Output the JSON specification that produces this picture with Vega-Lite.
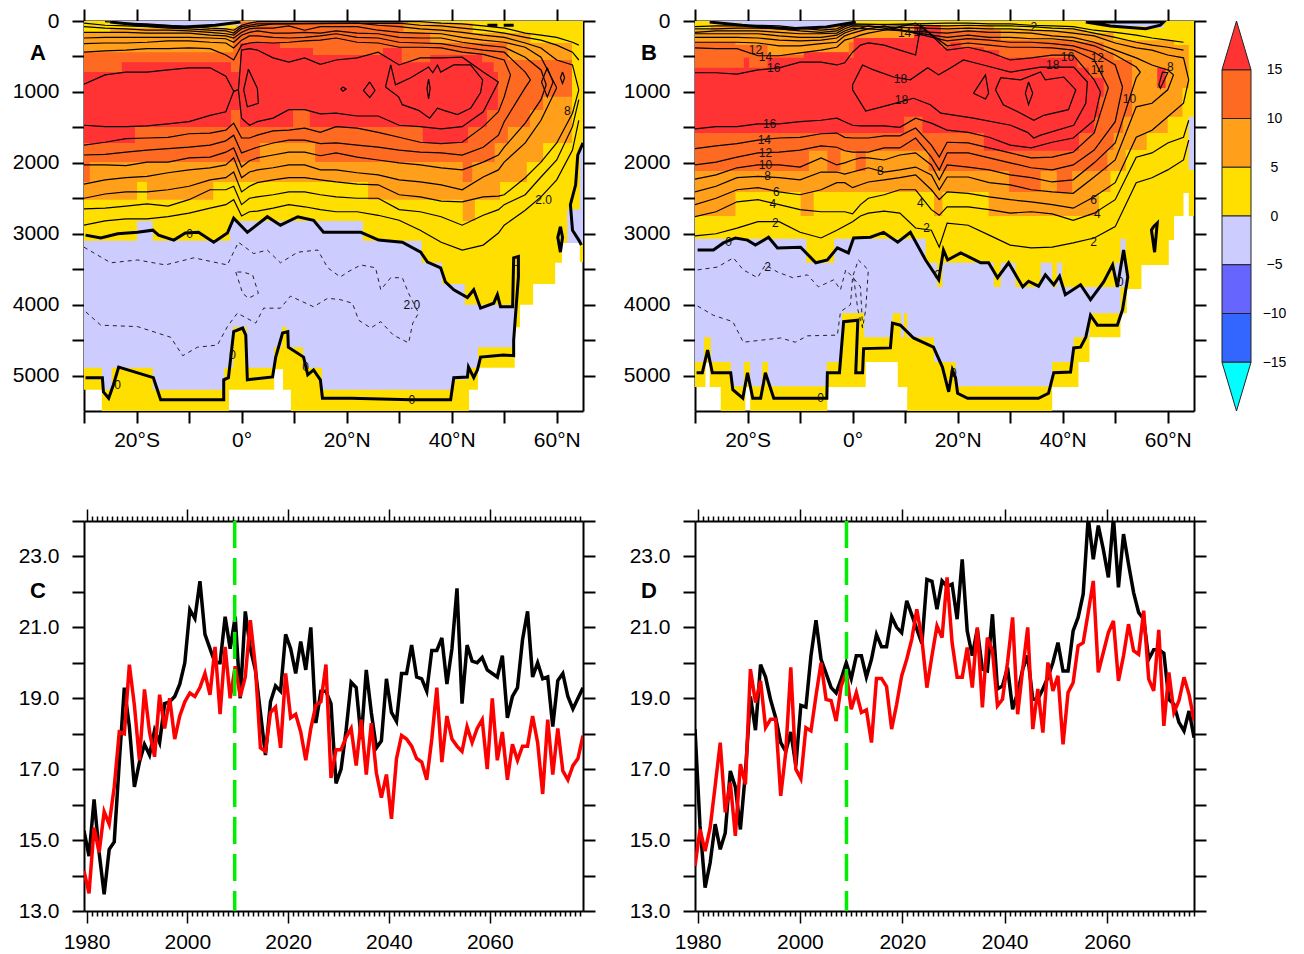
{"$schema":"https://vega.github.io/schema/vega-lite/v6.json","background":"white","padding":{"left":12,"top":8,"right":0,"bottom":0},"bounds":"flush","spacing":500,"resolve":{"scale":{"color":"independent"}},
"config":{"view":{"stroke":null},"font":"Liberation Sans","title":{"anchor":"start","frame":"group","fontSize":22,"fontWeight":"bold","offset":0,"color":"black","font":"Liberation Sans"},"axis":{"grid":false,"domainColor":"black","tickColor":"black","domainWidth":2,"tickWidth":2,"labelColor":"black","labelFont":"Liberation Sans","labelFontSize":21,"zindex":1,"labelOverlap":false,"labelFlush":false,"tickSize":12,"labelPadding":13}},
"datasets":{
"fA":[{"k":"water","a":-30,"t":0,"b":5200},{"k":"water","a":-26.6,"t":0,"b":5500},{"k":"water","a":-2.4,"t":0,"b":5200},{"k":"water","a":6.2,"t":0,"b":4910},{"k":"water","a":7.9,"t":0,"b":5200},{"k":"water","a":9.4,"t":0,"b":5500},{"k":"water","a":43.3,"t":0,"b":5200},{"k":"water","a":45,"t":0,"b":4890},{"k":"water","a":52,"t":0,"b":4320},{"k":"water","a":53,"t":0,"b":4000},{"k":"water","a":55.5,"t":0,"b":3710},{"k":"water","a":59.7,"t":0,"b":3410},{"k":"water","a":61,"t":0,"b":3130},{"k":"water","a":64.4,"t":0,"b":3400},{"k":"water","a":65,"t":0,"b":3400},
{"k":"lav","a":-30,"t":3100,"b":4890},{"k":"lav","a":-26.6,"t":3100,"b":5200},{"k":"lav","a":-24.7,"t":3100,"b":4890},{"k":"lav","a":-19.9,"t":2820,"b":4890},{"k":"lav","a":-16.9,"t":3100,"b":5200},{"k":"lav","a":-3.3,"t":3100,"b":4890},{"k":"lav","a":-2.2,"t":2820,"b":4890},{"k":"lav","a":-1.6,"t":2820,"b":4315},{"k":"lav","a":1,"t":2820,"b":4890},{"k":"lav","a":6.2,"t":2820,"b":4600},{"k":"lav","a":7.7,"t":2820,"b":4315},{"k":"lav","a":8.6,"t":2820,"b":4600},{"k":"lav","a":11.7,"t":2820,"b":4890},{"k":"lav","a":15.3,"t":2820,"b":5200},{"k":"lav","a":23.1,"t":3100,"b":5200},{"k":"lav","a":34.3,"t":3410,"b":5200},{"k":"lav","a":38.2,"t":3710,"b":5200},{"k":"lav","a":40.3,"t":3710,"b":5060},{"k":"lav","a":42.5,"t":4000,"b":5060},{"k":"lav","a":43.1,"t":4000,"b":4890},{"k":"lav","a":45,"t":4000,"b":4600},{"k":"lav","a":52,"t":4000,"b":4600},
{"k":"lav2","a":62,"t":2660,"b":3130},{"k":"lav2","a":64.4,"t":1720,"b":3130},{"k":"lav2","a":65,"t":1720,"b":3130},
{"k":"or","a":-30,"t":170,"b":2520},{"k":"or","a":-25,"t":100,"b":2520},{"k":"or","a":-19.9,"t":100,"b":2270},{"k":"or","a":-18,"t":100,"b":2520},{"k":"or","a":-5.4,"t":100,"b":2270},{"k":"or","a":-1,"t":0,"b":2270},{"k":"or","a":24.1,"t":0,"b":2520},{"k":"or","a":31.7,"t":30,"b":2520},{"k":"or","a":42.1,"t":30,"b":2820},{"k":"or","a":44,"t":170,"b":2820},{"k":"or","a":44.4,"t":170,"b":2520},{"k":"or","a":49.2,"t":170,"b":2270},{"k":"or","a":54.3,"t":170,"b":1990},{"k":"or","a":55,"t":310,"b":1990},{"k":"or","a":57.4,"t":310,"b":1720},{"k":"or","a":62.9,"t":310,"b":310},
{"k":"dk","a":-30,"t":440,"b":2270},{"k":"dk","a":-28.9,"t":440,"b":1990},{"k":"dk","a":-1.6,"t":130,"b":1990},{"k":"dk","a":-0.3,"t":15,"b":1990},{"k":"dk","a":3.5,"t":15,"b":1720},{"k":"dk","a":14,"t":15,"b":1990},{"k":"dk","a":30.8,"t":170,"b":1990},{"k":"dk","a":35.9,"t":310,"b":1990},{"k":"dk","a":42.1,"t":310,"b":2270},{"k":"dk","a":43.9,"t":310,"b":1990},{"k":"dk","a":48.2,"t":310,"b":1720},{"k":"dk","a":50.5,"t":410,"b":1720},{"k":"dk","a":50.7,"t":550,"b":1495},{"k":"dk","a":54.9,"t":550,"b":1255},{"k":"dk","a":57.4,"t":550,"b":1070},{"k":"dk","a":62.9,"t":550,"b":550},
{"k":"red","a":-30,"t":720,"b":1720},{"k":"red","a":-22.8,"t":580,"b":1720},{"k":"red","a":-20.3,"t":580,"b":1495},{"k":"red","a":-2,"t":720,"b":1255},{"k":"red","a":-0.3,"t":310,"b":1495},{"k":"red","a":7.3,"t":380,"b":1495},{"k":"red","a":9.8,"t":380,"b":1255},{"k":"red","a":13,"t":380,"b":1495},{"k":"red","a":13.6,"t":480,"b":1495},{"k":"red","a":26.9,"t":380,"b":1495},{"k":"red","a":30.5,"t":580,"b":1495},{"k":"red","a":34.5,"t":580,"b":1720},{"k":"red","a":35.9,"t":480,"b":1720},{"k":"red","a":43.1,"t":480,"b":1495},{"k":"red","a":45.8,"t":580,"b":1495},{"k":"red","a":46.7,"t":580,"b":1255},{"k":"red","a":48,"t":720,"b":1255},{"k":"red","a":48.8,"t":720,"b":720},
{"k":"lens","a":-25,"t":0,"b":30},{"k":"lens","a":-20,"t":0,"b":60},{"k":"lens","a":-15,"t":0,"b":85},{"k":"lens","a":-8,"t":0,"b":85},{"k":"lens","a":-3,"t":0,"b":60},{"k":"lens","a":-0.2,"t":0,"b":0}],
"cA":[{"a":-30,"L16":1470,"L14":1750,"L12":1890,"L10":2030,"L8":2300,"L6":2500,"L4":2650,"L2":2880,"u16":890,"u14":440,"u12":320,"u10":240,"u8":160,"u6":80,"u4":30},
{"a":-26,"L16":1490,"L14":1710,"L12":1880,"L10":2030,"L8":2240,"L6":2440,"L4":2640,"L2":2820,"u16":760,"u14":420,"u12":310,"u10":230,"u8":160,"u6":100,"u4":60,"u2":10},
{"a":-22,"L16":1490,"L14":1660,"L12":1850,"L10":2040,"L8":2210,"L6":2410,"L4":2610,"L2":2790,"u16":720,"u14":410,"u12":310,"u10":230,"u8":160,"u6":110,"u4":70,"u2":30},
{"a":-18,"L16":1480,"L14":1650,"L12":1820,"L10":1990,"L8":2190,"L6":2410,"L4":2580,"L2":2790,"u16":720,"u14":390,"u12":300,"u10":230,"u8":170,"u6":130,"u4":80,"u2":40},
{"a":-14,"L16":1450,"L14":1640,"L12":1800,"L10":1990,"L8":2140,"L6":2380,"L4":2610,"L2":2760,"u16":690,"u14":390,"u12":280,"u10":230,"u8":170,"u6":130,"u4":100,"u2":60},
{"a":-10,"L16":1420,"L14":1590,"L12":1780,"L10":1930,"L8":2100,"L6":2330,"L4":2520,"L2":2710,"u16":660,"u14":380,"u12":280,"u10":230,"u8":170,"u6":140,"u4":110,"u2":80},
{"a":-6,"L16":1330,"L14":1580,"L12":1750,"L10":1920,"L8":2070,"L6":2240,"L4":2380,"L2":2640,"u16":660,"u14":390,"u12":300,"u10":240,"u8":200,"u6":160,"u4":130,"u2":100},
{"a":-3,"L16":1280,"L14":1540,"L12":1690,"L10":1850,"L8":2030,"L6":2210,"L4":2380,"L2":2590,"u16":780,"u14":480,"u12":310,"u10":250,"u8":210,"u6":180,"u4":140,"u2":110},
{"a":-1.5,"L16":990,"L14":1440,"L12":1610,"L10":1790,"L8":1930,"L6":2130,"L4":2330,"L2":2520,"u16":990,"u14":550,"u12":380,"u10":300,"u8":240,"u6":200,"u4":170,"u2":130},
{"a":-0.6,"L16":970,"u16":970},
{"a":0,"L16":1370,"L14":1650,"L12":1860,"L10":2060,"L8":2210,"L6":2410,"L4":2590,"L2":2750,"u16":410,"u14":340,"u12":270,"u10":200,"u8":160,"u6":110,"u4":80,"u2":60},
{"a":1.5,"L16":1470,"L14":1650,"L12":1820,"L10":1970,"L8":2130,"L6":2330,"L4":2500,"L2":2690,"u16":390,"u14":310,"u12":210,"u10":160,"u8":110,"u6":80,"u4":60,"u2":30},
{"a":3,"L16":1420,"L14":1610,"L12":1780,"L10":1930,"L8":2100,"L6":2280,"L4":2480,"L2":2680,"u16":410,"u14":300,"u12":210,"u10":140,"u8":100,"u6":70,"u4":40,"u2":10},
{"a":6,"L16":1370,"L14":1550,"L12":1720,"L10":1890,"L8":2070,"L6":2240,"L4":2450,"L2":2640,"u16":520,"u14":310,"u12":230,"u10":170,"u8":100,"u6":40},
{"a":9,"L16":1250,"L14":1540,"L12":1680,"L10":1850,"L8":2030,"L6":2210,"L4":2410,"L2":2590,"u16":580,"u14":300,"u12":240,"u10":170,"u8":70},
{"a":12,"L16":1250,"L14":1510,"L12":1680,"L10":1850,"L8":2030,"L6":2210,"L4":2410,"L2":2620,"u16":520,"u14":280,"u12":230,"u10":160,"u8":130},
{"a":15,"L16":1310,"L14":1570,"L12":1730,"L10":1900,"L8":2100,"L6":2240,"L4":2450,"L2":2660,"u16":610,"u14":270,"u12":210,"u10":170,"u8":80},
{"a":18,"L16":1300,"L14":1490,"L12":1720,"L10":1860,"L8":2100,"L6":2270,"L4":2480,"L2":2690,"u16":550,"u14":240,"u12":180,"u10":140,"u8":80},
{"a":22,"L16":1340,"L14":1510,"L12":1750,"L10":1920,"L8":2140,"L6":2300,"L4":2500,"L2":2690,"u16":520,"u14":300,"u12":230,"u10":170,"u8":80,"u6":30},
{"a":26,"L16":1340,"L14":1570,"L12":1780,"L10":1960,"L8":2170,"L6":2310,"L4":2500,"L2":2740,"u16":440,"u14":310,"u12":240,"u10":180,"u8":130,"u6":60},
{"a":30,"L16":1470,"L14":1640,"L12":1820,"L10":2000,"L8":2240,"L6":2450,"L4":2660,"L2":2810,"u16":620,"u14":370,"u12":300,"u10":230,"u8":160,"u6":80,"u4":30},
{"a":34,"L16":1490,"L14":1710,"L12":1850,"L10":2030,"L8":2270,"L6":2480,"L4":2690,"L2":2950,"u16":520,"u14":370,"u12":310,"u10":240,"u8":170,"u6":110,"u4":60,"u2":10},
{"a":38,"L16":1520,"L14":1730,"L12":1860,"L10":2070,"L8":2310,"L6":2540,"L4":2760,"L2":3120,"u16":520,"u14":380,"u12":320,"u10":240,"u8":180,"u6":130,"u4":70,"u2":30},
{"a":42,"L16":1490,"L14":1710,"L12":1890,"L10":2100,"L8":2380,"L6":2550,"L4":2880,"L2":3230,"u16":510,"u14":440,"u12":370,"u10":300,"u8":230,"u6":160,"u4":100,"u2":40},
{"a":46,"L16":1280,"L14":1490,"L12":1780,"L10":1990,"L8":2200,"L6":2480,"L4":2740,"L2":3160,"u16":720,"u14":470,"u12":410,"u10":340,"u8":270,"u6":200,"u4":130,"u2":70},
{"a":48.9,"L16":860,"L14":1280,"L12":1610,"L10":1890,"L8":2100,"L6":2470,"L4":2660,"L2":2990,"u16":860},
{"a":50,"L14":1070,"L12":1420,"L10":1780,"L8":1990,"L6":2450,"L4":2590,"L2":2880,"u14":550,"u12":440,"u10":370,"u8":300,"u6":230,"u4":170,"u2":100},
{"a":51.2,"L14":760,"u14":760},
{"a":54,"L12":940,"L10":1440,"L8":1720,"L6":2210,"L4":2450,"L2":2670,"u12":720,"u10":510,"u8":370,"u6":310,"u4":230,"u2":170},
{"a":55,"L12":830,"u12":830},
{"a":57,"L10":1110,"L8":1400,"L6":1990,"L4":2200,"L2":2480,"u10":690,"u8":510,"u6":380,"u4":270,"u2":200},
{"a":58,"L10":900,"u10":900},
{"a":60,"L8":940,"L6":1720,"L4":1960,"L2":2240,"u8":940,"u6":550,"u4":340,"u2":230},
{"a":63,"L6":1300,"L4":1490,"L2":1820,"u6":620,"u4":440,"u2":300},
{"a":64.2,"L6":970,"L4":1110,"L2":1400,"u6":970,"u4":550,"u2":340}],
"zA":[{"c":"z","a":-29.7,"d":3020},{"c":"z","a":-26.8,"d":3060},{"c":"z","a":-23.6,"d":3000},{"c":"z","a":-19.8,"d":2980},{"c":"z","a":-16.9,"d":2950},{"c":"z","a":-15.8,"d":3020},{"c":"z","a":-12.9,"d":3090},{"c":"z","a":-10.7,"d":2990},{"c":"z","a":-8.2,"d":2980},{"c":"z","a":-5.3,"d":3120},{"c":"z","a":-2.7,"d":2990},{"c":"z","a":-1.5,"d":2780},{"c":"z","a":1.1,"d":2980},{"c":"z","a":4.9,"d":2760},{"c":"z","a":7.4,"d":2880},{"c":"z","a":10.7,"d":2760},{"c":"z","a":13.7,"d":2810},{"c":"z","a":15.6,"d":2980},{"c":"z","a":18.3,"d":2980},{"c":"z","a":22.7,"d":2980},{"c":"z","a":26.1,"d":3090},{"c":"z","a":30.6,"d":3120},{"c":"z","a":34.1,"d":3260},{"c":"z","a":35.4,"d":3400},{"c":"z","a":37.9,"d":3480},{"c":"z","a":38.8,"d":3680},{"c":"z","a":40.4,"d":3790},{"c":"z","a":43,"d":3900},{"c":"z","a":44.2,"d":3790},{"c":"z","a":45.5,"d":4050},{"c":"z","a":48,"d":3980},{"c":"z","a":48.7,"d":3860},{"c":"z","a":49.3,"d":4030},{"c":"z","a":51.6,"d":4030},{"c":"z","a":51.8,"d":3340},{"c":"z","a":52.7,"d":3320},{"c":"z","a":52.7,"d":3610},{"c":"z","a":51.8,"d":4500},{"c":"z","a":51.8,"d":4720},{"c":"z","a":49.9,"d":4710},{"c":"z","a":45.5,"d":4740},{"c":"z","a":44.9,"d":4920},{"c":"z","a":44.2,"d":5030},{"c":"z","a":43.2,"d":4880},{"c":"z","a":43,"d":5020},{"c":"z","a":40.4,"d":5030},{"c":"z","a":39.8,"d":5340},{"c":"z","a":32.2,"d":5340},{"c":"z","a":20.8,"d":5320},{"c":"z","a":15.4,"d":5320},{"c":"z","a":15,"d":5060},{"c":"z","a":13.7,"d":4920},{"c":"z","a":12.6,"d":4990},{"c":"z","a":11.8,"d":4740},{"c":"z","a":8.9,"d":4600},{"c":"z","a":8.8,"d":4380},{"c":"z","a":7.8,"d":4400},{"c":"z","a":6.5,"d":4740},{"c":"z","a":5.9,"d":5020},{"c":"z","a":1.1,"d":5060},{"c":"z","a":0.8,"d":4430},{"c":"z","a":0.2,"d":4330},{"c":"z","a":-1.5,"d":4380},{"c":"z","a":-2.5,"d":5030},{"c":"z","a":-3.4,"d":5060},{"c":"z","a":-3.4,"d":5340},{"c":"z","a":-15.4,"d":5340},{"c":"z","a":-16.8,"d":5030},{"c":"z","a":-23.4,"d":4880},{"c":"z","a":-24.4,"d":5130},{"c":"z","a":-25.3,"d":5320},{"c":"z","a":-26.3,"d":5230},{"c":"z","a":-26.5,"d":5030},{"c":"z","a":-29.7,"d":5030},
{"c":"z2","a":65,"d":1720},{"c":"z2","a":64,"d":1890},{"c":"z2","a":63.6,"d":2310},{"c":"z2","a":62.6,"d":2590},{"c":"z2","a":63,"d":2950},{"c":"z2","a":64.2,"d":3090},{"c":"z2","a":64.7,"d":3160},
{"c":"z3","a":60.7,"d":2900},{"c":"z3","a":60.2,"d":3050},{"c":"z3","a":60.7,"d":3260},{"c":"z3","a":61.1,"d":3050},{"c":"z3","a":60.7,"d":2900},
{"c":"z4","a":46.8,"d":60},{"c":"z4","a":48.7,"d":60},{"c":"z5","a":49.9,"d":60},{"c":"z5","a":51.8,"d":60},
{"c":"z6","a":-25,"d":15},{"c":"z6","a":-19,"d":60},{"c":"z6","a":-11,"d":85},{"c":"z6","a":-5,"d":60},{"c":"z6","a":-0.2,"d":15}],
"dA":[{"c":"d1","a":-30,"d":3190},{"c":"d1","a":-24.9,"d":3410},{"c":"d1","a":-19.8,"d":3370},{"c":"d1","a":-14.5,"d":3440},{"c":"d1","a":-9.1,"d":3340},{"c":"d1","a":-2.7,"d":3440},{"c":"d1","a":-0.6,"d":3120},{"c":"d1","a":2.3,"d":3280},{"c":"d1","a":4.9,"d":3230},{"c":"d1","a":7.4,"d":3410},{"c":"d1","a":10.7,"d":3260},{"c":"d1","a":14.5,"d":3230},{"c":"d1","a":16.4,"d":3480},{"c":"d1","a":18.8,"d":3610},{"c":"d1","a":20.2,"d":3540},{"c":"d1","a":22.7,"d":3440},{"c":"d1","a":25.5,"d":3480},{"c":"d1","a":26.5,"d":3790},{"c":"d1","a":28.4,"d":3620},{"c":"d1","a":30.6,"d":3620},{"c":"d1","a":31.8,"d":3840},{"c":"d1","a":33.7,"d":4120},{"c":"d1","a":32.6,"d":4260},{"c":"d1","a":31.8,"d":4540},{"c":"d1","a":28.9,"d":4430},{"c":"d1","a":26.5,"d":4240},{"c":"d1","a":24.6,"d":4330},{"c":"d1","a":22.3,"d":4220},{"c":"d1","a":21.1,"d":3980},{"c":"d1","a":18.8,"d":3930},{"c":"d1","a":16.4,"d":3910},{"c":"d1","a":13.7,"d":4030},{"c":"d1","a":9.3,"d":3880},{"c":"d1","a":7.4,"d":4050},{"c":"d1","a":4.2,"d":4050},{"c":"d1","a":2.7,"d":4260},{"c":"d1","a":-0.8,"d":4120},{"c":"d1","a":-2.7,"d":4310},{"c":"d1","a":-4.6,"d":4570},{"c":"d1","a":-8.4,"d":4600},{"c":"d1","a":-11.2,"d":4720},{"c":"d1","a":-13.5,"d":4460},{"c":"d1","a":-19.8,"d":4310},{"c":"d1","a":-26.8,"d":4290},{"c":"d1","a":-29.7,"d":4100},
{"c":"d2","a":-1.1,"d":3540},{"c":"d2","a":0.2,"d":3840},{"c":"d2","a":1.3,"d":3910},{"c":"d2","a":3.2,"d":3840},{"c":"d2","a":2.1,"d":3580},{"c":"d2","a":0.2,"d":3540},{"c":"d2","a":-1.1,"d":3540}],
"lA":[{"c":"a","a":27.4,"d":930},{"c":"a","a":28.4,"d":620},{"c":"a","a":29.3,"d":900},{"c":"a","a":32.2,"d":800},{"c":"a","a":35.6,"d":650},{"c":"a","a":36.4,"d":730},{"c":"a","a":37.3,"d":620},{"c":"a","a":37.9,"d":720},{"c":"a","a":40.4,"d":620},{"c":"a","a":43.6,"d":620},{"c":"a","a":45.9,"d":830},{"c":"a","a":45.5,"d":1010},{"c":"a","a":43.6,"d":1230},{"c":"a","a":41.1,"d":1320},{"c":"a","a":38.5,"d":1260},{"c":"a","a":37.3,"d":1230},{"c":"a","a":35.8,"d":1370},{"c":"a","a":33.7,"d":1260},{"c":"a","a":30.6,"d":1180},{"c":"a","a":29.9,"d":1070},{"c":"a","a":27.4,"d":930},
{"c":"b","a":1.3,"d":680},{"c":"b","a":0.4,"d":970},{"c":"b","a":1.1,"d":1210},{"c":"b","a":3.2,"d":1160},{"c":"b","a":3,"d":950},{"c":"b","a":1.3,"d":680},
{"c":"e","a":24.4,"d":860},{"c":"e","a":25.4,"d":980},{"c":"e","a":24.4,"d":1080},{"c":"e","a":23.2,"d":980},{"c":"e","a":24.4,"d":860},
{"c":"f","a":19.3,"d":930},{"c":"f","a":19.9,"d":960},{"c":"f","a":19.3,"d":990},{"c":"f","a":18.9,"d":960},{"c":"f","a":19.3,"d":930},
{"c":"g","a":35.6,"d":820},{"c":"g","a":35.9,"d":950},{"c":"g","a":35.6,"d":1100},{"c":"g","a":35.3,"d":950},{"c":"g","a":35.6,"d":820},
{"c":"h","a":58.2,"d":660},{"c":"h","a":59.3,"d":860},{"c":"h","a":58.2,"d":1070},{"c":"h","a":57.1,"d":860},{"c":"h","a":58.2,"d":660},
{"c":"i","a":61.1,"d":720},{"c":"i","a":61.5,"d":800},{"c":"i","a":61.1,"d":880},{"c":"i","a":60.7,"d":800},{"c":"i","a":61.1,"d":720}],
"tA":[{"a":-9.9,"d":3000,"t":"0"},{"a":-1.7,"d":4710,"t":"0"},{"a":-23.6,"d":5130,"t":"0"},{"a":12.2,"d":4880,"t":"0"},{"a":32.4,"d":5340,"t":"0"},{"a":52.2,"d":3400,"t":"0"},{"a":32.4,"d":4000,"t":"2.0"},{"a":57.5,"d":2520,"t":"2.0"},{"a":62,"d":1270,"t":"8"}],
"fB":[{"k":"water","a":-30,"t":0,"b":5160},{"k":"water","a":-28,"t":0,"b":4820},{"k":"water","a":-27.2,"t":0,"b":5160},{"k":"water","a":-25.1,"t":0,"b":5500},{"k":"water","a":-20.4,"t":0,"b":5160},{"k":"water","a":-19.5,"t":0,"b":5500},{"k":"water","a":-4.8,"t":0,"b":5160},{"k":"water","a":2.5,"t":0,"b":4810},{"k":"water","a":8.6,"t":0,"b":5160},{"k":"water","a":10.4,"t":0,"b":5500},{"k":"water","a":38,"t":0,"b":5160},{"k":"water","a":43,"t":0,"b":4810},{"k":"water","a":45.1,"t":0,"b":4460},{"k":"water","a":51,"t":0,"b":4120},{"k":"water","a":52.2,"t":0,"b":3780},{"k":"water","a":55,"t":0,"b":3440},{"k":"water","a":60.2,"t":0,"b":3090},{"k":"water","a":61.2,"t":0,"b":2750},{"k":"water","a":63,"t":0,"b":2425},{"k":"water","a":64,"t":0,"b":2750},{"k":"water","a":65,"t":0,"b":2750},
{"k":"lav","a":-30,"t":3070,"b":4810},{"k":"lav","a":-28.3,"t":3070,"b":4460},{"k":"lav","a":-27,"t":3070,"b":4810},{"k":"lav","a":-23.2,"t":3070,"b":5150},{"k":"lav","a":-20.7,"t":3070,"b":4810},{"k":"lav","a":-19.5,"t":3070,"b":5150},{"k":"lav","a":-17.2,"t":3070,"b":4810},{"k":"lav","a":-16.1,"t":3070,"b":5150},{"k":"lav","a":-8.8,"t":3410,"b":5150},{"k":"lav","a":-4.9,"t":3410,"b":4810},{"k":"lav","a":-3.5,"t":3070,"b":4810},{"k":"lav","a":-2,"t":3070,"b":4120},{"k":"lav","a":2.2,"t":3070,"b":4460},{"k":"lav","a":7.6,"t":3070,"b":4120},{"k":"lav","a":9.2,"t":3070,"b":4460},{"k":"lav","a":9.8,"t":3070,"b":4120},{"k":"lav","a":10.4,"t":3070,"b":4460},{"k":"lav","a":13.9,"t":3410,"b":4460},{"k":"lav","a":15.5,"t":3410,"b":4810},{"k":"lav","a":16.1,"t":3750,"b":4810},{"k":"lav","a":17.1,"t":3410,"b":4810},{"k":"lav","a":19.6,"t":3410,"b":5150},{"k":"lav","a":26.9,"t":3750,"b":5150},{"k":"lav","a":28.2,"t":3410,"b":5150},{"k":"lav","a":31,"t":3750,"b":5150},{"k":"lav","a":35.8,"t":3410,"b":5150},{"k":"lav","a":38,"t":3750,"b":4810},{"k":"lav","a":38.9,"t":3410,"b":4810},{"k":"lav","a":39.9,"t":3750,"b":4810},{"k":"lav","a":42.1,"t":3750,"b":4460},{"k":"lav","a":45.1,"t":3750,"b":4120},{"k":"lav","a":50,"t":3410,"b":4120},{"k":"lav","a":51,"t":3070,"b":3750},{"k":"lav","a":52,"t":3070,"b":3070},
{"k":"lav2","a":64,"t":1350,"b":2100},{"k":"lav2","a":65,"t":1350,"b":2100},
{"k":"or","a":-30,"t":130,"b":2750},{"k":"or","a":-27,"t":60,"b":2750},{"k":"or","a":-22.3,"t":60,"b":2410},{"k":"or","a":-9.9,"t":60,"b":2750},{"k":"or","a":-7.4,"t":60,"b":2410},{"k":"or","a":15.5,"t":60,"b":2750},{"k":"or","a":17.1,"t":60,"b":2410},{"k":"or","a":25.9,"t":60,"b":2750},{"k":"or","a":26.9,"t":130,"b":2750},{"k":"or","a":44.5,"t":170,"b":2750},{"k":"or","a":46.9,"t":170,"b":2410},{"k":"or","a":49.1,"t":170,"b":2115},{"k":"or","a":49.7,"t":270,"b":2115},{"k":"or","a":52,"t":270,"b":1820},{"k":"or","a":56,"t":270,"b":1580},{"k":"or","a":60,"t":270,"b":1350},{"k":"or","a":61.2,"t":340,"b":1350},{"k":"or","a":62.8,"t":340,"b":945},{"k":"or","a":64,"t":340,"b":340},
{"k":"dk","a":-30,"t":300,"b":2115},{"k":"dk","a":-22.3,"t":340,"b":2115},{"k":"dk","a":-16.2,"t":480,"b":2115},{"k":"dk","a":-9.3,"t":440,"b":2115},{"k":"dk","a":-8.3,"t":440,"b":1830},{"k":"dk","a":-4.8,"t":440,"b":2115},{"k":"dk","a":-2.3,"t":440,"b":1830},{"k":"dk","a":-0.7,"t":300,"b":1830},{"k":"dk","a":0.6,"t":240,"b":2115},{"k":"dk","a":2.5,"t":240,"b":1830},{"k":"dk","a":11.7,"t":60,"b":1830},{"k":"dk","a":14.5,"t":60,"b":2115},{"k":"dk","a":16.8,"t":130,"b":2115},{"k":"dk","a":28.2,"t":270,"b":2115},{"k":"dk","a":29.8,"t":270,"b":2410},{"k":"dk","a":35.8,"t":270,"b":2115},{"k":"dk","a":38.9,"t":270,"b":2410},{"k":"dk","a":41.8,"t":300,"b":2115},{"k":"dk","a":47.8,"t":440,"b":2115},{"k":"dk","a":48.5,"t":440,"b":1820},{"k":"dk","a":49.7,"t":550,"b":1580},{"k":"dk","a":51.5,"t":550,"b":1350},{"k":"dk","a":53.2,"t":550,"b":550},
{"k":"red","a":-30,"t":660,"b":1580},{"k":"red","a":-20.7,"t":520,"b":1580},{"k":"red","a":-19.7,"t":660,"b":1580},{"k":"red","a":-16.2,"t":520,"b":1580},{"k":"red","a":-9.3,"t":440,"b":1580},{"k":"red","a":-0.7,"t":520,"b":1580},{"k":"red","a":0.2,"t":240,"b":1580},{"k":"red","a":9.8,"t":240,"b":1350},{"k":"red","a":11.7,"t":60,"b":1350},{"k":"red","a":13.3,"t":60,"b":1580},{"k":"red","a":16.8,"t":370,"b":1580},{"k":"red","a":18.6,"t":300,"b":1580},{"k":"red","a":20.6,"t":370,"b":1580},{"k":"red","a":25,"t":410,"b":1830},{"k":"red","a":27.9,"t":520,"b":1830},{"k":"red","a":42.8,"t":660,"b":1830},{"k":"red","a":43.1,"t":660,"b":1580},{"k":"red","a":45,"t":800,"b":1580},{"k":"red","a":46,"t":800,"b":1350},{"k":"red","a":47,"t":800,"b":1070},{"k":"red","a":47.8,"t":800,"b":800},
{"k":"red2","a":58,"t":660,"b":945},{"k":"red2","a":59.6,"t":660,"b":945},
{"k":"lens","a":-27.2,"t":0,"b":30},{"k":"lens","a":-21,"t":0,"b":70},{"k":"lens","a":-12,"t":0,"b":110},{"k":"lens","a":-5,"t":0,"b":70},{"k":"lens","a":0.6,"t":0,"b":0},
{"k":"lens2","a":44.4,"t":0,"b":30},{"k":"lens2","a":49.1,"t":0,"b":70},{"k":"lens2","a":55.8,"t":0,"b":100},{"k":"lens2","a":59.2,"t":0,"b":0}],
"cB":[{"a":-30,"L16":1520,"L14":1800,"L12":2030,"L10":2230,"L8":2410,"L6":2590,"L4":2760,"L2":3030,"u16":730,"u14":380,"u12":300,"u10":230,"u8":180,"u6":160,"u4":110,"u2":80},
{"a":-26,"L16":1490,"L14":1760,"L12":1990,"L10":2170,"L8":2330,"L6":2500,"L4":2690,"L2":3000,"u16":730,"u14":390,"u12":300,"u10":230,"u8":180,"u6":140,"u4":110,"u2":70},
{"a":-22,"L16":1490,"L14":1730,"L12":1920,"L10":2070,"L8":2210,"L6":2380,"L4":2550,"L2":2920,"u16":750,"u14":390,"u12":300,"u10":230,"u8":180,"u6":140,"u4":100,"u2":70},
{"a":-18,"L16":1450,"L14":1680,"L12":1860,"L10":2030,"L8":2190,"L6":2350,"L4":2520,"L2":2830,"u16":690,"u14":490,"u12":310,"u10":240,"u8":180,"u6":140,"u4":100,"u2":60},
{"a":-14,"L16":1450,"L14":1650,"L12":1850,"L10":2030,"L8":2210,"L6":2410,"L4":2590,"L2":2830,"u16":660,"u14":490,"u12":350,"u10":270,"u8":210,"u6":160,"u4":110,"u2":70},
{"a":-10,"L16":1420,"L14":1640,"L12":1820,"L10":2060,"L8":2240,"L6":2450,"L4":2660,"L2":2980,"u16":580,"u14":450,"u12":350,"u10":280,"u8":230,"u6":180,"u4":140,"u2":100},
{"a":-6,"L16":1400,"L14":1590,"L12":1760,"L10":1930,"L8":2130,"L6":2380,"L4":2690,"L2":3060,"u16":580,"u14":410,"u12":320,"u10":270,"u8":230,"u6":180,"u4":160,"u2":130},
{"a":-3,"L16":1370,"L14":1580,"L12":1780,"L10":2030,"L8":2130,"L6":2280,"L4":2690,"L2":2950,"u16":620,"u14":370,"u12":300,"u10":240,"u8":200,"u6":170,"u4":140,"u2":110},
{"a":-1.5,"L16":1420,"L14":1640,"L12":1830,"L10":2000,"L8":2160,"L6":2280,"L4":2690,"L2":2890,"u16":590,"u14":270,"u12":210,"u10":170,"u8":140,"u6":110,"u4":80,"u2":60},
{"a":0,"L16":1470,"L14":1650,"L12":1850,"L10":1960,"L8":2130,"L6":2350,"L4":2720,"L2":2830,"u16":440,"u14":240,"u12":170,"u10":130,"u8":100,"u6":70,"u4":40},
{"a":1.5,"L16":1480,"L14":1650,"L12":1850,"L10":1930,"L8":2100,"L6":2310,"L4":2590,"L2":2750,"u16":340,"u14":200,"u12":140},
{"a":3,"L16":1480,"L14":1650,"L12":1850,"L10":1930,"L8":2070,"L6":2270,"L4":2500,"L2":2710,"u16":310,"u14":170,"u12":110,"u10":70},
{"a":6,"L16":1480,"L14":1620,"L12":1790,"L10":1960,"L8":2130,"L6":2240,"L4":2450,"L2":2680,"u16":340,"u14":130,"u12":70},
{"a":9,"L16":1500,"L14":1620,"L12":1790,"L10":1890,"L8":2100,"L6":2210,"L4":2380,"L2":2710,"u16":410,"u14":80},
{"a":12,"L16":1370,"L14":1510,"L12":1650,"L10":1860,"L8":2060,"L6":2170,"L4":2380,"L2":2920,"u16":480,"u14":30},
{"a":13,"u16":60},
{"a":15,"L16":1440,"L14":1750,"L12":1920,"L10":2030,"L8":2170,"L6":2380,"L4":2660,"L2":2950},
{"a":16.5,"L16":1490,"L14":1920,"L12":2100,"L10":2240,"L8":2380,"L6":2520,"L4":2740,"L2":3190},
{"a":18,"L16":1540,"L14":1710,"L12":1860,"L10":2030,"L8":2200,"L6":2410,"L4":2620,"L2":2850,"u16":410,"u14":350,"u12":280,"u10":230,"u8":170,"u6":110,"u4":70,"u2":30},
{"a":22,"L16":1570,"L14":1720,"L12":1860,"L10":2060,"L8":2200,"L6":2430,"L4":2620,"L2":2880,"u16":370,"u14":310,"u12":250,"u10":200,"u8":140,"u6":100,"u4":60,"u2":30},
{"a":26,"L16":1640,"L14":1790,"L12":1930,"L10":2100,"L8":2280,"L6":2480,"L4":2660,"L2":3020,"u16":440,"u14":340,"u12":270,"u10":230,"u8":160,"u6":110,"u4":70,"u2":40},
{"a":30,"L16":1750,"L14":1860,"L12":2000,"L10":2170,"L8":2310,"L6":2520,"L4":2710,"L2":3160,"u16":550,"u14":370,"u12":300,"u10":230,"u8":160,"u6":110,"u4":70,"u2":40},
{"a":34,"L16":1790,"L14":1930,"L12":2070,"L10":2210,"L8":2380,"L6":2550,"L4":2690,"L2":3200,"u16":520,"u14":370,"u12":300,"u10":250,"u8":170,"u6":130,"u4":80,"u2":60},
{"a":38,"L16":1710,"L14":1920,"L12":2100,"L10":2270,"L8":2410,"L6":2590,"L4":2720,"L2":3190,"u16":480,"u14":380,"u12":320,"u10":250,"u8":210,"u6":140,"u4":100,"u2":70},
{"a":42,"L16":1650,"L14":1850,"L12":2030,"L10":2240,"L8":2430,"L6":2640,"L4":2810,"L2":3130,"u16":480,"u14":410,"u12":350,"u10":280,"u8":230,"u6":170,"u4":110,"u2":80},
{"a":46,"L16":1400,"L14":1580,"L12":1820,"L10":2000,"L8":2200,"L6":2480,"L4":2710,"L2":3060,"u16":830,"u14":550,"u12":440,"u10":350,"u8":300,"u6":210,"u4":170,"u2":130},
{"a":47.2,"L16":1000,"u16":1000},
{"a":48.7,"L14":940,"u14":940},
{"a":50,"L12":1420,"L10":1720,"L8":1960,"L6":2280,"L4":2520,"L2":2900,"u12":620,"u10":480,"u8":410,"u6":310,"u4":230,"u2":160},
{"a":51.4,"L12":930,"u12":930},
{"a":54,"L10":800,"L8":1210,"L6":1640,"L4":1920,"L2":2280,"u10":650,"u8":520,"u6":380,"u4":300,"u2":200},
{"a":54.8,"L10":720,"u10":720},
{"a":57,"L8":1160,"L6":1540,"L4":1860,"L2":2210,"u8":620,"u6":410,"u4":340,"u2":240},
{"a":60,"L8":970,"L6":1350,"L4":1720,"L2":2100,"u8":690,"u6":480,"u4":370,"u2":270},
{"a":61.1,"L8":760,"u8":760},
{"a":63,"L6":1160,"L4":1640,"L2":1960,"u6":520,"u4":410,"u2":300},
{"a":64,"L6":830,"L4":1400,"L2":1680,"u6":830}],
"zB":[{"c":"z","a":-29.5,"d":3230},{"c":"z","a":-26.5,"d":3230},{"c":"z","a":-24.6,"d":3130},{"c":"z","a":-22.3,"d":3060},{"c":"z","a":-20,"d":3090},{"c":"z","a":-18.5,"d":3160},{"c":"z","a":-16,"d":3050},{"c":"z","a":-14.3,"d":3200},{"c":"z","a":-9.9,"d":3190},{"c":"z","a":-7,"d":3410},{"c":"z","a":-4.8,"d":3370},{"c":"z","a":-2.9,"d":3200},{"c":"z","a":-0.8,"d":3270},{"c":"z","a":0.2,"d":3060},{"c":"z","a":3.4,"d":3050},{"c":"z","a":5.9,"d":2980},{"c":"z","a":8.6,"d":3120},{"c":"z","a":11,"d":2980},{"c":"z","a":13.9,"d":3370},{"c":"z","a":16.4,"d":3650},{"c":"z","a":17.3,"d":3230},{"c":"z","a":18.1,"d":3370},{"c":"z","a":20.6,"d":3270},{"c":"z","a":24.4,"d":3410},{"c":"z","a":25.9,"d":3410},{"c":"z","a":27.6,"d":3620},{"c":"z","a":29.7,"d":3410},{"c":"z","a":32.4,"d":3750},{"c":"z","a":33.5,"d":3670},{"c":"z","a":35.4,"d":3740},{"c":"z","a":36.7,"d":3580},{"c":"z","a":38.3,"d":3720},{"c":"z","a":39.4,"d":3600},{"c":"z","a":40.5,"d":3860},{"c":"z","a":43.4,"d":3720},{"c":"z","a":45.3,"d":3930},{"c":"z","a":47.8,"d":3680},{"c":"z","a":49.5,"d":3440},{"c":"z","a":50.4,"d":3750},{"c":"z","a":51.6,"d":3230},{"c":"z","a":52.4,"d":3610},{"c":"z","a":51.4,"d":4070},{"c":"z","a":50.4,"d":4290},{"c":"z","a":46.6,"d":4290},{"c":"z","a":45.3,"d":4150},{"c":"z","a":44.4,"d":4460},{"c":"z","a":43.4,"d":4600},{"c":"z","a":42.1,"d":4610},{"c":"z","a":41.5,"d":4950},{"c":"z","a":38.3,"d":4960},{"c":"z","a":37.3,"d":5250},{"c":"z","a":35.4,"d":5320},{"c":"z","a":21.9,"d":5320},{"c":"z","a":20,"d":5250},{"c":"z","a":19.6,"d":5030},{"c":"z","a":19,"d":4920},{"c":"z","a":18.3,"d":5230},{"c":"z","a":17.1,"d":4880},{"c":"z","a":15.4,"d":4600},{"c":"z","a":11.6,"d":4470},{"c":"z","a":9.1,"d":4290},{"c":"z","a":7.6,"d":4260},{"c":"z","a":7.2,"d":4610},{"c":"z","a":2.1,"d":4620},{"c":"z","a":1.9,"d":4960},{"c":"z","a":0.6,"d":4960},{"c":"z","a":1,"d":4220},{"c":"z","a":-1.7,"d":4240},{"c":"z","a":-2.5,"d":4960},{"c":"z","a":-4.8,"d":4960},{"c":"z","a":-4.9,"d":5320},{"c":"z","a":-15,"d":5320},{"c":"z","a":-16.6,"d":4960},{"c":"z","a":-17.5,"d":5320},{"c":"z","a":-19,"d":5320},{"c":"z","a":-20,"d":4960},{"c":"z","a":-20.9,"d":5320},{"c":"z","a":-22.8,"d":5200},{"c":"z","a":-23.2,"d":4960},{"c":"z","a":-26.7,"d":4960},{"c":"z","a":-27.6,"d":4640},{"c":"z","a":-28.6,"d":4960},{"c":"z","a":-29.7,"d":4960},
{"c":"z3","a":57.3,"d":2900},{"c":"z3","a":58,"d":2850},{"c":"z3","a":57.5,"d":3260},{"c":"z3","a":56.9,"d":2950},{"c":"z3","a":57.3,"d":2900},
{"c":"z6","a":-27.2,"d":15},{"c":"z6","a":-21,"d":60},{"c":"z6","a":-12,"d":110},{"c":"z6","a":-5,"d":85},{"c":"z6","a":0.6,"d":15},
{"c":"z7","a":44.4,"d":15},{"c":"z7","a":49.1,"d":70},{"c":"z7","a":55.8,"d":110},{"c":"z7","a":58.6,"d":60},{"c":"z7","a":59.2,"d":15},{"c":"z7","a":44.4,"d":15}],
"dB":[{"c":"d1","a":-29.5,"d":3510},{"c":"d1","a":-25.7,"d":3470},{"c":"d1","a":-22.7,"d":3340},{"c":"d1","a":-20.8,"d":3510},{"c":"d1","a":-18.1,"d":3620},{"c":"d1","a":-16.6,"d":3440},{"c":"d1","a":-14.3,"d":3540},{"c":"d1","a":-11.4,"d":3620},{"c":"d1","a":-8.6,"d":3580},{"c":"d1","a":-6.5,"d":3750},{"c":"d1","a":-3.6,"d":3650},{"c":"d1","a":-2.3,"d":3790},{"c":"d1","a":-1.3,"d":3510},{"c":"d1","a":0,"d":3610},{"c":"d1","a":1.1,"d":3370},{"c":"d1","a":3,"d":3510},{"c":"d1","a":2.5,"d":4070},{"c":"d1","a":1.9,"d":4330},{"c":"d1","a":1,"d":4070},{"c":"d1","a":0.2,"d":3620},
{"c":"d2","a":-29.5,"d":4020},{"c":"d2","a":-26.5,"d":4150},{"c":"d2","a":-22.8,"d":4240},{"c":"d2","a":-20.8,"d":4530},{"c":"d2","a":-13.7,"d":4470},{"c":"d2","a":-10.9,"d":4530},{"c":"d2","a":-8.6,"d":4440},{"c":"d2","a":-2.9,"d":4430},{"c":"d2","a":-2.3,"d":4100},{"c":"d2","a":-0.4,"d":4000},{"c":"d2","a":0,"d":3610},{"c":"d2","a":1.5,"d":3750},{"c":"d2","a":1.9,"d":4310}],
"lB":[{"c":"a","a":0,"d":900},{"c":"a","a":1.9,"d":620},{"c":"a","a":4,"d":690},{"c":"a","a":7.8,"d":790},{"c":"a","a":11,"d":830},{"c":"a","a":14.3,"d":660},{"c":"a","a":16.4,"d":760},{"c":"a","a":18.7,"d":660},{"c":"a","a":21.1,"d":550},{"c":"a","a":24.9,"d":620},{"c":"a","a":30.1,"d":720},{"c":"a","a":35.8,"d":650},{"c":"a","a":42.1,"d":650},{"c":"a","a":44.7,"d":860},{"c":"a","a":44.4,"d":1160},{"c":"a","a":42.1,"d":1470},{"c":"a","a":35.8,"d":1610},{"c":"a","a":34.5,"d":1650},{"c":"a","a":33.3,"d":1570},{"c":"a","a":30.1,"d":1470},{"c":"a","a":23,"d":1370},{"c":"a","a":16.8,"d":1300},{"c":"a","a":14.8,"d":1180},{"c":"a","a":11.6,"d":1090},{"c":"a","a":7.2,"d":1180},{"c":"a","a":2.5,"d":1270},{"c":"a","a":0,"d":970},{"c":"a","a":0,"d":900},
{"c":"b","a":27.2,"d":970},{"c":"b","a":28.2,"d":800},{"c":"b","a":32,"d":830},{"c":"b","a":35.8,"d":720},{"c":"b","a":36.7,"d":830},{"c":"b","a":40.2,"d":790},{"c":"b","a":42.5,"d":970},{"c":"b","a":41.1,"d":1250},{"c":"b","a":36.4,"d":1330},{"c":"b","a":34.5,"d":1400},{"c":"b","a":32,"d":1300},{"c":"b","a":28.7,"d":1180},{"c":"b","a":27.2,"d":970},
{"c":"e","a":23,"d":1020},{"c":"e","a":25.3,"d":760},{"c":"e","a":25.9,"d":1020},{"c":"e","a":25.3,"d":1100},{"c":"e","a":23,"d":1020},
{"c":"f","a":33.5,"d":860},{"c":"f","a":34.3,"d":1020},{"c":"f","a":33.5,"d":1180},{"c":"f","a":32.9,"d":1020},{"c":"f","a":33.5,"d":860},
{"c":"g","a":58.3,"d":900},{"c":"g","a":59,"d":720},{"c":"g","a":60,"d":730},{"c":"g","a":58.6,"d":950},{"c":"g","a":58.3,"d":900}],
"tB":[{"a":-18.5,"d":410,"t":"12"},{"a":-16.6,"d":510,"t":"14"},{"a":-15,"d":660,"t":"16"},{"a":-15.8,"d":1450,"t":"16"},{"a":-16.8,"d":1680,"t":"14"},{"a":-16.6,"d":1860,"t":"12"},{"a":-16.6,"d":2030,"t":"10"},{"a":-16.2,"d":2190,"t":"8"},{"a":-14.5,"d":2410,"t":"6"},{"a":-15.2,"d":2580,"t":"4"},{"a":-14.7,"d":2850,"t":"2"},{"a":5.3,"d":2120,"t":"8"},{"a":9.9,"d":170,"t":"14"},{"a":12.9,"d":160,"t":"16"},{"a":9.1,"d":820,"t":"18"},{"a":9.3,"d":1110,"t":"18"},{"a":40.9,"d":510,"t":"16"},{"a":38.1,"d":620,"t":"18"},{"a":46.6,"d":520,"t":"12"},{"a":46.6,"d":690,"t":"14"},{"a":52.7,"d":1100,"t":"10"},{"a":60.5,"d":650,"t":"8"},{"a":45.9,"d":2520,"t":"6"},{"a":46.6,"d":2720,"t":"4"},{"a":45.9,"d":3120,"t":"2"},{"a":34.5,"d":85,"t":"2"},{"a":-23.6,"d":3120,"t":"0"},{"a":-6.1,"d":5320,"t":"0"},{"a":16.2,"d":3580,"t":"0"},{"a":19.2,"d":4960,"t":"0"},{"a":51,"d":3680,"t":"0"},{"a":12.9,"d":2570,"t":"4"},{"a":14.1,"d":2920,"t":"2"},{"a":-16.2,"d":3470,"t":"2"}],
"C":[{"t":1979.5,"black":15.26,"red":14.13},{"t":1980.5,"black":14.55,"red":13.5},{"t":1981.5,"black":16.15,"red":15.35},{"t":1982.5,"black":14.65,"red":14.65},{"t":1983.5,"black":13.47,"red":15.8},{"t":1984.5,"black":14.74,"red":15.45},{"t":1985.5,"black":14.95,"red":16.5},{"t":1986.5,"black":17.2,"red":18.05},{"t":1987.5,"black":19.3,"red":18},{"t":1988.5,"black":18.2,"red":19.95},{"t":1989.5,"black":16.5,"red":18.8},{"t":1990.5,"black":17.2,"red":17.25},{"t":1991.5,"black":17.7,"red":19.25},{"t":1992.5,"black":17.4,"red":18.05},{"t":1993.5,"black":18.1,"red":17.35},{"t":1994.5,"black":17.75,"red":19.1},{"t":1995.5,"black":18.85,"red":18.15},{"t":1996.5,"black":18.9,"red":19},{"t":1997.5,"black":19.05,"red":17.85},{"t":1998.5,"black":19.4,"red":18.5},{"t":1999.5,"black":20,"red":18.9},{"t":2000.5,"black":21.5,"red":19.15},{"t":2001.5,"black":21.25,"red":19.05},{"t":2002.5,"black":22.3,"red":19.3},{"t":2003.5,"black":20.8,"red":19.7},{"t":2004.5,"black":20.4,"red":19.1},{"t":2005.5,"black":20,"red":20.45},{"t":2006.5,"black":20,"red":18.55},{"t":2007.5,"black":21.3,"red":20.45},{"t":2008.5,"black":20.4,"red":19},{"t":2009.5,"black":21.3,"red":19.9},{"t":2010.5,"black":19,"red":19.05},{"t":2011.5,"black":21.45,"red":19.6},{"t":2012.5,"black":20.4,"red":21.2},{"t":2013.5,"black":19.8,"red":19.9},{"t":2014.5,"black":18.6,"red":17.6},{"t":2015.5,"black":17.4,"red":17.5},{"t":2016.5,"black":18.9,"red":18.6},{"t":2017.5,"black":19.35,"red":18.75},{"t":2018.5,"black":19.2,"red":17.6},{"t":2019.5,"black":20.8,"red":19.7},{"t":2020.5,"black":20.4,"red":18.45},{"t":2021.5,"black":19.7,"red":18.55},{"t":2022.5,"black":20.6,"red":18.05},{"t":2023.5,"black":19.8,"red":17.25},{"t":2024.5,"black":21,"red":18.15},{"t":2025.5,"black":18.3,"red":18.8},{"t":2026.5,"black":19.2,"red":18.9},{"t":2027.5,"black":19.2,"red":19.95},{"t":2028.5,"black":18.85,"red":16.75},{"t":2029.5,"black":16.6,"red":17.55},{"t":2030.5,"black":17,"red":17.55},{"t":2031.5,"black":18.1,"red":17.9},{"t":2032.5,"black":19.45,"red":18.15},{"t":2033.5,"black":19.3,"red":17.1},{"t":2034.5,"black":17.85,"red":18.4},{"t":2035.5,"black":19.8,"red":16.85},{"t":2036.5,"black":18.6,"red":18.3},{"t":2037.5,"black":17.6,"red":16.9},{"t":2038.5,"black":17.8,"red":16.2},{"t":2039.5,"black":19.55,"red":16.85},{"t":2040.5,"black":18.6,"red":15.6},{"t":2041.5,"black":18.35,"red":17.3},{"t":2042.5,"black":19.7,"red":17.95},{"t":2043.5,"black":19.7,"red":17.85},{"t":2044.5,"black":20.5,"red":17.65},{"t":2045.5,"black":19.6,"red":17.3},{"t":2046.5,"black":19.55,"red":17.2},{"t":2047.5,"black":19.2,"red":16.7},{"t":2048.5,"black":20.35,"red":17.85},{"t":2049.5,"black":20.35,"red":19.3},{"t":2050.5,"black":20.7,"red":17.2},{"t":2051.5,"black":19.4,"red":18.5},{"t":2052.5,"black":20.4,"red":17.85},{"t":2053.5,"black":22.1,"red":17.65},{"t":2054.5,"black":18.85,"red":17.5},{"t":2055.5,"black":20.5,"red":18.2},{"t":2056.5,"black":20.05,"red":17.75},{"t":2057.5,"black":20,"red":18.15},{"t":2058.5,"black":20.15,"red":18.4},{"t":2059.5,"black":19.8,"red":17},{"t":2060.5,"black":19.7,"red":19},{"t":2061.5,"black":19.6,"red":17.25},{"t":2062.5,"black":20.2,"red":18.05},{"t":2063.5,"black":18.45,"red":16.7},{"t":2064.5,"black":19.05,"red":17.7},{"t":2065.5,"black":19.3,"red":17.25},{"t":2066.5,"black":20.65,"red":17.65},{"t":2067.5,"black":21.45,"red":17.65},{"t":2068.5,"black":19.6,"red":18.5},{"t":2069.5,"black":20,"red":17.75},{"t":2070.5,"black":19.55,"red":16.3},{"t":2071.5,"black":19.6,"red":18.4},{"t":2072.5,"black":18.2,"red":16.85},{"t":2073.5,"black":19.5,"red":18.15},{"t":2074.5,"black":19.7,"red":16.95},{"t":2075.5,"black":19.05,"red":16.7},{"t":2076.5,"black":18.7,"red":17.1},{"t":2077.5,"black":19,"red":17.3},{"t":2078.5,"black":19.3,"red":17.95}],
"D":[{"t":1979.5,"black":18.13,"red":14.27},{"t":1980.48,"black":15.4,"red":15.3},{"t":1981.47,"black":13.66,"red":14.69},{"t":1982.46,"black":14.36,"red":15.35},{"t":1983.44,"black":15.45,"red":16.53},{"t":1984.43,"black":14.74,"red":17.75},{"t":1985.41,"black":15.2,"red":15.78},{"t":1986.4,"black":16.95,"red":16.62},{"t":1987.38,"black":16.5,"red":15.12},{"t":1988.37,"black":15.3,"red":17.14},{"t":1989.35,"black":16.9,"red":16.57},{"t":1990.33,"black":19.05,"red":19.82},{"t":1991.32,"black":18.1,"red":18.88},{"t":1992.31,"black":19.95,"red":19.49},{"t":1993.29,"black":19.6,"red":18.17},{"t":1994.28,"black":18.95,"red":18.41},{"t":1995.26,"black":18.45,"red":18.41},{"t":1996.25,"black":17.75,"red":16.25},{"t":1997.23,"black":17.5,"red":17.47},{"t":1998.22,"black":18.05,"red":19.87},{"t":1999.2,"black":17.1,"red":17},{"t":2000.18,"black":18.8,"red":16.73},{"t":2001.17,"black":18.75,"red":18.17},{"t":2002.16,"black":20.2,"red":18.08},{"t":2003.14,"black":21.2,"red":19.07},{"t":2004.13,"black":20.1,"red":20},{"t":2005.11,"black":19.7,"red":18.97},{"t":2006.1,"black":19.3,"red":18.93},{"t":2007.08,"black":19.15,"red":18.36},{"t":2008.07,"black":19.55,"red":19.35},{"t":2009.05,"black":20,"red":19.73},{"t":2010.03,"black":19.55,"red":18.69},{"t":2011.02,"black":20.2,"red":19.16},{"t":2012.01,"black":20.2,"red":18.6},{"t":2012.99,"black":19.6,"red":18.67},{"t":2013.98,"black":20.1,"red":17.75},{"t":2014.96,"black":20.8,"red":19.56},{"t":2015.95,"black":20.45,"red":19.56},{"t":2016.93,"black":20.45,"red":19.33},{"t":2017.92,"black":21.3,"red":18.13},{"t":2018.9,"black":21,"red":18.83},{"t":2019.88,"black":20.85,"red":19.63},{"t":2020.87,"black":21.75,"red":20.1},{"t":2021.86,"black":21.35,"red":20.67},{"t":2022.84,"black":20.95,"red":21.51},{"t":2023.83,"black":20.55,"red":20.67},{"t":2024.81,"black":22.35,"red":19.3},{"t":2025.8,"black":22.3,"red":20.2},{"t":2026.78,"black":21.51,"red":21.04},{"t":2027.77,"black":22.31,"red":20.71},{"t":2028.75,"black":22.15,"red":22.41},{"t":2029.73,"black":22.22,"red":20.57},{"t":2030.72,"black":21.23,"red":19.59},{"t":2031.71,"black":22.92,"red":19.59},{"t":2032.69,"black":20.9,"red":20.43},{"t":2033.68,"black":20.2,"red":19.3},{"t":2034.66,"black":20.95,"red":21},{"t":2035.65,"black":19.82,"red":18.74},{"t":2036.63,"black":19.77,"red":20.71},{"t":2037.62,"black":21.37,"red":20.34},{"t":2038.6,"black":19.26,"red":18.79},{"t":2039.58,"black":19.35,"red":18.97},{"t":2040.57,"black":19.87,"red":20.01},{"t":2041.56,"black":18.69,"red":21.28},{"t":2042.54,"black":19.16,"red":18.55},{"t":2043.53,"black":19.82,"red":19.82},{"t":2044.51,"black":20.2,"red":21},{"t":2045.5,"black":18.97,"red":18.13},{"t":2046.48,"black":18.97,"red":19.26},{"t":2047.47,"black":19.26,"red":18.03},{"t":2048.45,"black":19.59,"red":20.01},{"t":2049.43,"black":20.01,"red":19.21},{"t":2050.42,"black":20.57,"red":19.63},{"t":2051.41,"black":19.77,"red":17.7},{"t":2052.39,"black":19.77,"red":19.16},{"t":2053.38,"black":20.9,"red":19.44},{"t":2054.36,"black":21.28,"red":20.48},{"t":2055.35,"black":21.94,"red":20.57},{"t":2056.33,"black":24.1,"red":21.42},{"t":2057.32,"black":22.92,"red":22.31},{"t":2058.3,"black":23.87,"red":19.73},{"t":2059.28,"black":23.2,"red":20.29},{"t":2060.27,"black":22.41,"red":20.85},{"t":2061.26,"black":24.1,"red":21.18},{"t":2062.24,"black":22.13,"red":19.49},{"t":2063.23,"black":23.63,"red":20.2},{"t":2064.21,"black":22.78,"red":21.09},{"t":2065.2,"black":21.98,"red":20.34},{"t":2066.18,"black":21.42,"red":20.24},{"t":2067.17,"black":21.23,"red":21.47},{"t":2068.15,"black":20.1,"red":19.54},{"t":2069.13,"black":20.37,"red":19.21},{"t":2070.12,"black":20.37,"red":20.93},{"t":2071.11,"black":20.27,"red":18.22},{"t":2072.09,"black":18.97,"red":19.73},{"t":2073.08,"black":18.83,"red":18.6},{"t":2074.06,"black":18.32,"red":18.93},{"t":2075.05,"black":18.08,"red":19.59},{"t":2076.03,"black":18.64,"red":19.11},{"t":2077.02,"black":17.89,"red":18.36}],
"bars":[{"band":"b10","lo":10,"hi":15},{"band":"b5","lo":5,"hi":10},{"band":"b0","lo":0,"hi":5},{"band":"m5","lo":-5,"hi":0},{"band":"m10","lo":-10,"hi":-5},{"band":"m15","lo":-15,"hi":-10}],
"tris":[{"band":"b15","p":0,"lo":15,"hi":15},{"band":"b15","p":0.5,"lo":15,"hi":20},{"band":"b15","p":1,"lo":15,"hi":15},{"band":"m20","p":0,"lo":-15,"hi":-15},{"band":"m20","p":0.5,"lo":-20,"hi":-15},{"band":"m20","p":1,"lo":-15,"hi":-15}],
"mark":[{"t":2009.4}],"markD":[{"t":2009.1}]
},
"vconcat":[{"bounds":"flush","spacing":112,"resolve":{"scale":{"color":"independent"}},"hconcat":[
{"width":499,"height":390,"title":{"text":"A","dx":-54,"dy":61},"resolve":{"axis":{"x":"independent","y":"independent"}},"layer":[
{"data":{"name":"fA"},"mark":{"type":"area","interpolate":"step-after","clip":true},"encoding":{"x":{"field":"a","type":"quantitative","scale":{"domain":[-30,65],"nice":false,"zero":false},"axis":{"title":null,"orient":"bottom","values":[-30,-20,-10,0,10,20,30,40,50,60],"labelExpr":"datum.value==-20?'20°S':datum.value==0?'0°':(datum.value>0&&datum.value%20==0)?datum.value+'°N':''","labelPadding":6}},"y":{"field":"t","type":"quantitative","scale":{"domain":[5500,0],"nice":false,"zero":false},"axis":{"title":null,"orient":"left","values":[0,500,1000,1500,2000,2500,3000,3500,4000,4500,5000],"labelExpr":"datum.value%1000==0?format(datum.value,'d'):''"}},"y2":{"field":"b"},"color":{"field":"k","type":"nominal","legend":null,"scale":{"domain":["water","lav","lav2","or","dk","red","lens"],"range":["#ffdf00","#ccccff","#ccccff","#ff9f1a","#ff6a22","#ff3333","#ccccff"]}}}},
{"data":{"name":"cA"},"transform":[{"fold":["L16","L14","L12","L10","L8","L6","L4","L2","u16","u14","u12","u10","u8","u6","u4","u2"],"as":["c","d"]},{"filter":"isValid(datum.d)"}],"mark":{"type":"line","stroke":"black","strokeWidth":1.2,"clip":true},"encoding":{"x":{"field":"a","type":"quantitative","axis":{"title":null,"orient":"top","values":[-30,-20,-10,0,10,20,30,40,50,60],"labels":false}},"y":{"field":"d","type":"quantitative","axis":{"title":null,"orient":"right","values":[0,500,1000,1500,2000,2500,3000,3500,4000,4500,5000],"labels":false}},"detail":{"field":"c"}}},
{"data":{"name":"lA"},"mark":{"type":"line","stroke":"black","strokeWidth":1.2,"clip":true},"encoding":{"x":{"field":"a","type":"quantitative","axis":null},"y":{"field":"d","type":"quantitative","axis":null},"detail":{"field":"c"},"order":{"value":null}}},
{"data":{"name":"dA"},"mark":{"type":"line","stroke":"#222","strokeWidth":1,"strokeDash":[4,4],"clip":true},"encoding":{"x":{"field":"a","type":"quantitative","axis":null},"y":{"field":"d","type":"quantitative","axis":null},"detail":{"field":"c"},"order":{"value":null}}},
{"data":{"name":"zA"},"mark":{"type":"line","stroke":"black","strokeWidth":3,"clip":true},"encoding":{"x":{"field":"a","type":"quantitative","axis":null},"y":{"field":"d","type":"quantitative","axis":null},"detail":{"field":"c"},"order":{"value":null}}},
{"data":{"name":"tA"},"mark":{"type":"text","fontSize":12,"color":"#111"},"encoding":{"x":{"field":"a","type":"quantitative","axis":null},"y":{"field":"d","type":"quantitative","axis":null},"text":{"field":"t"}}}]},
{"bounds":"flush","spacing":28,"resolve":{"scale":{"color":"independent"}},"hconcat":[
{"width":499,"height":390,"title":{"text":"B","dx":-54,"dy":61},"resolve":{"axis":{"x":"independent","y":"independent"}},"layer":[
{"data":{"name":"fB"},"mark":{"type":"area","interpolate":"step-after","clip":true},"encoding":{"x":{"field":"a","type":"quantitative","scale":{"domain":[-30,65],"nice":false,"zero":false},"axis":{"title":null,"orient":"bottom","values":[-30,-20,-10,0,10,20,30,40,50,60],"labelExpr":"datum.value==-20?'20°S':datum.value==0?'0°':(datum.value>0&&datum.value%20==0)?datum.value+'°N':''","labelPadding":6}},"y":{"field":"t","type":"quantitative","scale":{"domain":[5500,0],"nice":false,"zero":false},"axis":{"title":null,"orient":"left","values":[0,500,1000,1500,2000,2500,3000,3500,4000,4500,5000],"labelExpr":"datum.value%1000==0?format(datum.value,'d'):''"}},"y2":{"field":"b"},"color":{"field":"k","type":"nominal","legend":null,"scale":{"domain":["water","lav","lav2","or","dk","red","red2","lens","lens2"],"range":["#ffdf00","#ccccff","#ccccff","#ff9f1a","#ff6a22","#ff3333","#ff3333","#ccccff","#ccccff"]}}}},
{"data":{"name":"cB"},"transform":[{"fold":["L16","L14","L12","L10","L8","L6","L4","L2","u16","u14","u12","u10","u8","u6","u4","u2"],"as":["c","d"]},{"filter":"isValid(datum.d)"}],"mark":{"type":"line","stroke":"black","strokeWidth":1.2,"clip":true},"encoding":{"x":{"field":"a","type":"quantitative","axis":{"title":null,"orient":"top","values":[-30,-20,-10,0,10,20,30,40,50,60],"labels":false}},"y":{"field":"d","type":"quantitative","axis":{"title":null,"orient":"right","values":[0,500,1000,1500,2000,2500,3000,3500,4000,4500,5000],"labels":false}},"detail":{"field":"c"}}},
{"data":{"name":"lB"},"mark":{"type":"line","stroke":"black","strokeWidth":1.2,"clip":true},"encoding":{"x":{"field":"a","type":"quantitative","axis":null},"y":{"field":"d","type":"quantitative","axis":null},"detail":{"field":"c"},"order":{"value":null}}},
{"data":{"name":"dB"},"mark":{"type":"line","stroke":"#222","strokeWidth":1,"strokeDash":[4,4],"clip":true},"encoding":{"x":{"field":"a","type":"quantitative","axis":null},"y":{"field":"d","type":"quantitative","axis":null},"detail":{"field":"c"},"order":{"value":null}}},
{"data":{"name":"zB"},"mark":{"type":"line","stroke":"black","strokeWidth":3,"clip":true},"encoding":{"x":{"field":"a","type":"quantitative","axis":null},"y":{"field":"d","type":"quantitative","axis":null},"detail":{"field":"c"},"order":{"value":null}}},
{"data":{"name":"tB"},"mark":{"type":"text","fontSize":12,"color":"#111"},"encoding":{"x":{"field":"a","type":"quantitative","axis":null},"y":{"field":"d","type":"quantitative","axis":null},"text":{"field":"t"}}}]},
{"width":29,"height":390,"layer":[
{"data":{"name":"bars"},"mark":{"type":"rect","stroke":"#222","strokeWidth":1},"encoding":{"y":{"field":"lo","type":"quantitative","scale":{"domain":[-20,20],"nice":false,"zero":false},"axis":{"title":null,"orient":"right","values":[-15,-10,-5,0,5,10,15],"domain":false,"ticks":false,"labelFontSize":14,"labelAlign":"center","labelPadding":23}},"y2":{"field":"hi"},"color":{"field":"band","type":"nominal","legend":null,"scale":{"domain":["b15","b10","b5","b0","m5","m10","m15","m20"],"range":["#ff3333","#ff6a22","#ff9f1a","#ffdf00","#ccccff","#6666ff","#3366ff","#00ffff"]}}}},
{"data":{"name":"tris"},"mark":{"type":"area","stroke":"#222","strokeWidth":1},"encoding":{"x":{"field":"p","type":"quantitative","scale":{"domain":[0,1],"nice":false},"axis":null},"y":{"field":"lo","type":"quantitative"},"y2":{"field":"hi"},"color":{"field":"band","type":"nominal","legend":null,"scale":{"domain":["b15","b10","b5","b0","m5","m10","m15","m20"],"range":["#ff3333","#ff6a22","#ff9f1a","#ffdf00","#ccccff","#6666ff","#3366ff","#00ffff"]}}}}]}]}]},
{"bounds":"flush","spacing":112,"hconcat":[
{"width":499,"height":390,"title":{"text":"C","dx":-54,"dy":99},"data":{"name":"C"},"resolve":{"axis":{"x":"independent","y":"independent"}},"layer":[
{"mark":{"type":"line","stroke":"black","strokeWidth":3.5,"strokeJoin":"miter","clip":true},"encoding":{"x":{"field":"t","type":"quantitative","scale":{"domain":[1979.5,2078.5],"nice":false,"zero":false},"axis":{"title":null,"orient":"bottom","tickCount":99,"tickSize":{"condition":{"test":"datum.value%20==0","value":12},"value":5},"tickWidth":1.5,"labelExpr":"datum.value%20==0?format(datum.value,'d'):''","labelPadding":8}},"y":{"field":"black","type":"quantitative","scale":{"domain":[13,24],"nice":false,"zero":false},"axis":{"title":null,"orient":"left","values":[13,14,15,16,17,18,19,20,21,22,23,24],"labelExpr":"datum.value%2==1?format(datum.value,'.1f'):''"}}}},
{"mark":{"type":"line","stroke":"#ff0000","strokeWidth":3.5,"strokeJoin":"miter","clip":true},"encoding":{"x":{"field":"t","type":"quantitative","axis":{"title":null,"orient":"top","tickCount":99,"tickSize":{"condition":{"test":"datum.value%20==0","value":12},"value":5},"tickWidth":1.5,"labels":false}},"y":{"field":"red","type":"quantitative","axis":{"title":null,"orient":"right","values":[13,14,15,16,17,18,19,20,21,22,23,24],"labels":false}}}},
{"data":{"name":"mark"},"mark":{"type":"rule","stroke":"#00ee00","strokeWidth":3.5,"strokeDash":[27,10]},"encoding":{"x":{"field":"t","type":"quantitative","axis":null}}}]},
{"width":499,"height":390,"title":{"text":"D","dx":-54,"dy":99},"data":{"name":"D"},"resolve":{"axis":{"x":"independent","y":"independent"}},"layer":[
{"mark":{"type":"line","stroke":"black","strokeWidth":3.5,"strokeJoin":"miter","clip":true},"encoding":{"x":{"field":"t","type":"quantitative","scale":{"domain":[1979.5,2077],"nice":false,"zero":false},"axis":{"title":null,"orient":"bottom","tickCount":98,"tickSize":{"condition":{"test":"datum.value%20==0","value":12},"value":5},"tickWidth":1.5,"labelExpr":"datum.value%20==0?format(datum.value,'d'):''","labelPadding":8}},"y":{"field":"black","type":"quantitative","scale":{"domain":[13,24],"nice":false,"zero":false},"axis":{"title":null,"orient":"left","values":[13,14,15,16,17,18,19,20,21,22,23,24],"labelExpr":"datum.value%2==1?format(datum.value,'.1f'):''"}}}},
{"mark":{"type":"line","stroke":"#ff0000","strokeWidth":3.5,"strokeJoin":"miter","clip":true},"encoding":{"x":{"field":"t","type":"quantitative","axis":{"title":null,"orient":"top","tickCount":98,"tickSize":{"condition":{"test":"datum.value%20==0","value":12},"value":5},"tickWidth":1.5,"labels":false}},"y":{"field":"red","type":"quantitative","axis":{"title":null,"orient":"right","values":[13,14,15,16,17,18,19,20,21,22,23,24],"labels":false}}}},
{"data":{"name":"markD"},"mark":{"type":"rule","stroke":"#00ee00","strokeWidth":3.5,"strokeDash":[27,10]},"encoding":{"x":{"field":"t","type":"quantitative","axis":null}}}]}]}]}
